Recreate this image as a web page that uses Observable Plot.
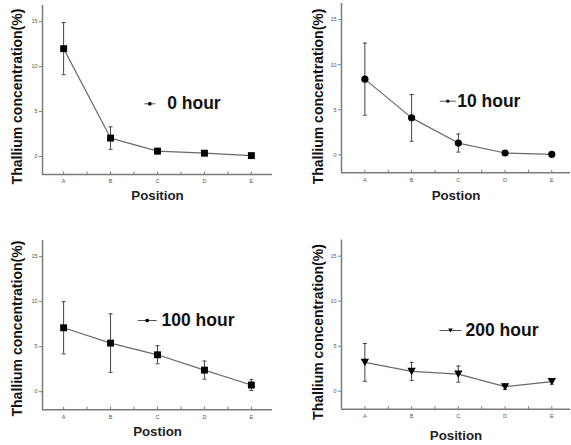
<!DOCTYPE html>
<html>
<head>
<meta charset="utf-8">
<script src="https://cdn.jsdelivr.net/npm/d3@7"></script>
<script src="https://cdn.jsdelivr.net/npm/@observablehq/plot@0.6"></script>
<style>
  html, body { margin: 0; padding: 0; background: #fff; }
  #wrap { position: relative; width: 571px; height: 445px; overflow: hidden; font-family: "Liberation Sans", Arial, sans-serif; }
  .panel { position: absolute; }
  .panel svg { overflow: visible; background: transparent; }
</style>
</head>
<body>
<div id="wrap"></div>
<script>
// ---- data ----
const positions = ["A", "B", "C", "D", "E"];
const yTicks = [0, 5, 10, 15];
const xTickSteps = [0, 0.5, 1, 1.5, 2, 2.5, 3, 3.5, 4];
const yDomain = [-2, 16.8];

const hour0 = [12.0, 2.05, 0.6, 0.37, 0.1];
const err0 = [2.9, 1.25, 0.3, 0.2, 0.1];
const hour10 = [8.4, 4.1, 1.3, 0.2, 0.05];
const err10 = [4.0, 2.6, 1.0, 0.15, 0.1];
const hour100 = [7.1, 5.4, 4.1, 2.4, 0.74];
const err100 = [2.9, 3.25, 1.0, 1.0, 0.6];
const hour200 = [3.2, 2.2, 1.9, 0.5, 1.07];
const err200 = [2.1, 1.0, 0.9, 0.3, 0.3];

const legendLabels = ["0 hour", "10 hour", "100 hour", "200 hour"];
const yLabel = "Thallium concentration(%)";
const xLabels = ["Position", "Postion", "Postion", "Position"];

// ---- symbols ----
const triangleDown = {
  draw(ctx, size) {
    const r = Math.sqrt(size / Math.PI);
    ctx.moveTo(-r, -0.85 * r);
    ctx.lineTo(r, -0.85 * r);
    ctx.lineTo(0, 0.9 * r);
    ctx.closePath();
  }
};
const capSymbol = {
  draw(ctx) { ctx.moveTo(-2, 0); ctx.lineTo(2, 0); }
};
const hLine = (w) => ({
  draw(ctx) { ctx.moveTo(-w, 0); ctx.lineTo(w, 0); }
});

const FONT = "Liberation Sans, Arial, sans-serif";
const AXIS = "#7a7a7a";

const panels = [
  { vals: hour0, errs: err0, symbol: "square", r: 3.9, lsym: "square", lr: 1.8,
    left: 0, top: 0, width: 285, height: 220, ml: 42, mt: 5, mb: 46, mr: 13, xd: [-0.45, 4.45],
    ylab: { dx: -25, dy: 6.5 }, xlab: { dy: 21 },
    leg: { sx: 107.3, tx: 124.7, dy: 98.3, w: 5.5 } },
  { vals: hour10, errs: err10, symbol: "circle", r: 3.6, lsym: "circle", lr: 1.6,
    left: 285, top: 0, width: 286, height: 220, ml: 56, mt: 3, mb: 47.7, mr: 1, xd: [-0.5, 4.4],
    ylab: { dx: -23, dy: 8.3 }, xlab: { dy: 22.7 },
    leg: { sx: 106.3, tx: 115.7, dy: 97.7, w: 8 } },
  { vals: hour100, errs: err100, symbol: "square", r: 3.9, lsym: "square", lr: 1.8,
    left: 0, top: 225, width: 285, height: 220, ml: 42, mt: 15, mb: 35.8, mr: 13, xd: [-0.45, 4.45],
    ylab: { dx: -25, dy: 3.5 }, xlab: { dy: 22.5 },
    leg: { sx: 104.7, tx: 119, dy: 80, w: 9.5 } },
  { vals: hour200, errs: err200, symbol: triangleDown, r: 4.2, lsym: triangleDown, lr: 2.3,
    left: 285, top: 225, width: 286, height: 220, ml: 56, mt: 14.5, mb: 36.3, mr: 1, xd: [-0.5, 4.4],
    ylab: { dx: -23, dy: 7.4 }, xlab: { dy: 27 },
    leg: { sx: 109, tx: 124, dy: 90.5, w: 11 } }
];

const wrap = document.getElementById("wrap");

panels.forEach((p, k) => {
  const rows = positions.map((pos, i) => ({
    pos, i, v: p.vals[i], lo: p.vals[i] - p.errs[i], hi: p.vals[i] + p.errs[i]
  }));
  const frameH = p.height - p.mt - p.mb;
  const chart = Plot.plot({
    width: p.width,
    height: p.height,
    marginLeft: p.ml,
    marginTop: p.mt,
    marginBottom: p.mb,
    marginRight: p.mr,
    style: { fontFamily: FONT, background: "transparent", overflow: "visible" },
    x: { type: "linear", domain: p.xd },
    y: { domain: yDomain },
    marks: [
      // axis lines
      Plot.ruleX([p.xd[0]], { stroke: AXIS, strokeWidth: 1.5 }),
      Plot.ruleY([yDomain[0]], { stroke: AXIS, strokeWidth: 1.5 }),
      // y axis
      Plot.axisY({ ticks: yTicks, tickSize: 3, tickPadding: 2, fontSize: 5.5, stroke: AXIS, fill: "#555", label: null }),
      // x axis labels
      Plot.axisX({ ticks: [0, 1, 2, 3, 4], tickFormat: (d) => positions[d], tickSize: 0, tickPadding: 5, fontSize: 5.5, fill: "#555", label: null }),
      // inward x ticks
      Plot.tickX(xTickSteps, { x: (d) => d, insetTop: frameH - 2.5, stroke: AXIS }),
      // series line
      Plot.line(rows, { x: "i", y: "v", stroke: "#6a6a6a", strokeWidth: 1.2 }),
      // error bars
      Plot.ruleX(rows, { x: "i", y1: "lo", y2: "hi", stroke: "#444", strokeWidth: 1 }),
      Plot.dot(rows, { x: "i", y: "hi", symbol: capSymbol, stroke: "#444", fill: "none", strokeWidth: 1 }),
      Plot.dot(rows, { x: "i", y: "lo", symbol: capSymbol, stroke: "#444", fill: "none", strokeWidth: 1 }),
      // markers
      Plot.dot(rows, { x: "i", y: "v", symbol: p.symbol, r: p.r, fill: "black", stroke: "none" }),
      // legend
      Plot.dot([legendLabels[k]], { frameAnchor: "top-left", dx: p.leg.sx, dy: p.leg.dy, symbol: hLine(p.leg.w), stroke: "#555", fill: "none", strokeWidth: 1 }),
      Plot.dot([legendLabels[k]], { frameAnchor: "top-left", dx: p.leg.sx, dy: p.leg.dy, symbol: p.lsym, r: p.lr, fill: "black", stroke: "none" }),
      Plot.text([legendLabels[k]], { frameAnchor: "top-left", dx: p.leg.tx, dy: p.leg.dy, text: (d) => d, textAnchor: "start", lineAnchor: "middle", fontSize: 17.5, fontWeight: "bold", fill: "#111" }),
      // axis titles
      Plot.text([yLabel], { frameAnchor: "left", dx: p.ylab.dx, dy: p.ylab.dy, text: (d) => d, rotate: -90, textAnchor: "middle", lineAnchor: "middle", fontSize: 14, fontWeight: "bold", fill: "#111" }),
      Plot.text([xLabels[k]], { frameAnchor: "bottom", dy: p.xlab.dy, text: (d) => d, textAnchor: "middle", lineAnchor: "middle", fontSize: 13.3, fontWeight: "bold", fill: "#222" })
    ]
  });
  const div = document.createElement("div");
  div.className = "panel";
  div.style.left = p.left + "px";
  div.style.top = p.top + "px";
  div.appendChild(chart);
  wrap.appendChild(div);
});
</script>
</body>
</html>
